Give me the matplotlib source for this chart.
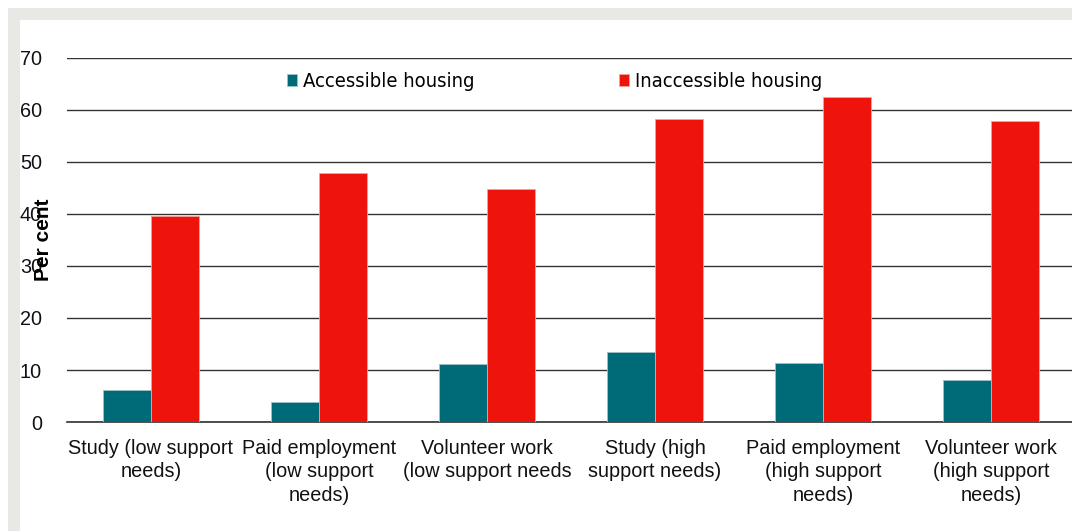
import matplotlib.pyplot as plt
import numpy as np
from matplotlib.patches import Rectangle

categories = ["Study (low support\nneeds)", "Paid employment\n(low support\nneeds)",
              "Volunteer work\n(low support needs", "Study (high\nsupport needs)",
              "Paid employment\n(high support\nneeds)", "Volunteer work\n(high support\nneeds)"]
accessible = [6.2, 3.8, 11.2, 13.5, 11.4, 8.1]
inaccessible = [39.6, 47.9, 44.8, 58.3, 62.5, 57.9]
series_names = ["Accessible housing", "Inaccessible housing"]
yticks = [0, 10, 20, 30, 40, 50, 60, 70]

teal = "#006B78"
red = "#EE140B"

plt.rcParams['font.family'] = ['Liberation Sans', 'DejaVu Sans']

W, H = 1072, 531
fig = plt.figure(figsize=(W / 100, H / 100), dpi=100)
fig.patch.set_facecolor("white")

# grey outer frame, cut off on the right and at the bottom
fig.patches.append(Rectangle((8 / W, 0), 1, 1 - 8 / H, transform=fig.transFigure,
                             facecolor="#E8E8E4", edgecolor="none", zorder=-10))
fig.patches.append(Rectangle((20 / W, 0), 1, 1 - 20 / H, transform=fig.transFigure,
                             facecolor="white", edgecolor="none", zorder=-9))

ax = fig.add_axes([67 / W, 1 - 422 / H, 1008 / W, (422 - 58) / H])
ax.set_facecolor("none")

x = np.arange(len(categories))
w = 0.285
ax.bar(x - w / 2, accessible, w, color=teal, edgecolor="#9CC3C8", linewidth=0.6,
       label=series_names[0], zorder=3)
ax.bar(x + w / 2, inaccessible, w, color=red, edgecolor="#F5A09A", linewidth=0.6,
       label=series_names[1], zorder=3)

ax.set_xlim(-0.5, len(categories) - 0.5)
ax.set_ylim(0, 70)
ax.set_yticks(yticks)
ax.yaxis.grid(True, color="#333333", linewidth=1.0, zorder=0)
ax.set_axisbelow(True)
for s in ["top", "right", "left"]:
    ax.spines[s].set_visible(False)
ax.spines["bottom"].set_color("#333333")
ax.spines["bottom"].set_linewidth(1.2)
ax.tick_params(axis="both", length=0, labelsize=14.3, colors="#111111")
ax.tick_params(axis="y", pad=18)
ax.tick_params(axis="x", pad=12)
ax.set_xticks(x)
ax.set_xticklabels(categories, linespacing=1.3)

# label sits on top of the tick numbers, as in the original
ax.set_ylabel("Per cent", fontsize=15, fontweight="bold", labelpad=-24)

leg = ax.legend(loc="upper left", bbox_to_anchor=(0.204, 1.0), ncol=2, frameon=False,
                fontsize=14.5, handlelength=0.5, handleheight=0.5, handletextpad=0.3,
                columnspacing=7.2, borderaxespad=0.3)
for t in leg.get_texts():
    t.set_family("DejaVu Sans")
    t.set_fontstretch("condensed")

fig.savefig("out.png", dpi=100)
